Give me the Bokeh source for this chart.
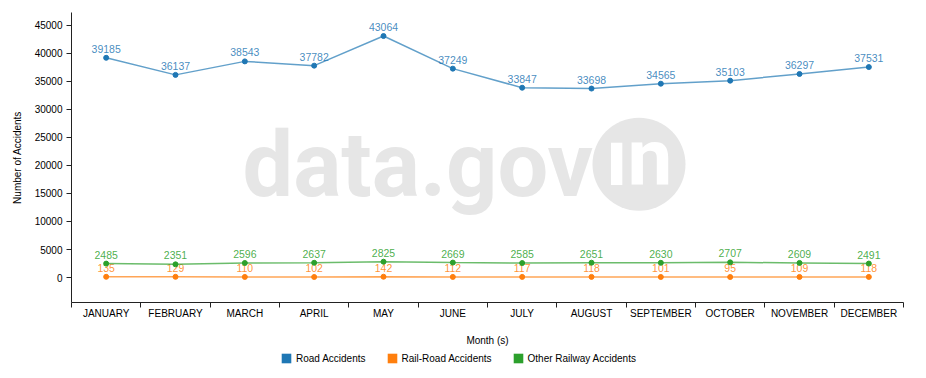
from bokeh.plotting import figure
from bokeh.layouts import column
from bokeh.models import (ColumnDataSource, FixedTicker, Range1d, Legend, LegendItem, Label)
from bokeh.embed import file_html
from bokeh.resources import INLINE
from bokeh.core.properties import value

months = ["JANUARY", "FEBRUARY", "MARCH", "APRIL", "MAY", "JUNE", "JULY",
          "AUGUST", "SEPTEMBER", "OCTOBER", "NOVEMBER", "DECEMBER"]
road = [39185, 36137, 38543, 37782, 43064, 37249, 33847, 33698, 34565, 35103, 36297, 37531]
rail_road = [135, 129, 110, 102, 142, 112, 117, 118, 101, 95, 109, 118]
other_rail = [2485, 2351, 2596, 2637, 2825, 2669, 2585, 2651, 2630, 2707, 2609, 2491]
series_names = ["Road Accidents", "Rail-Road Accidents", "Other Railway Accidents"]
colors = ["#1f77b4", "#ff7f0e", "#2ca02c"]
y_ticks = [0, 5000, 10000, 15000, 20000, 25000, 30000, 35000, 40000, 45000]

FONT = "Liberation Sans"
xs = [i + 0.5 for i in range(len(months))]
NAN = float("nan")

p = figure(width=910, height=348, output_backend="svg", toolbar_location=None,
           x_range=Range1d(0, len(months)), y_range=Range1d(-4450, 47260),
           min_border_left=71, min_border_right=7, min_border_top=12, min_border_bottom=46)
p.outline_line_color = None
p.grid.visible = False
p.background_fill_color = "white"

# watermark
p.add_layout(Label(x=2.466, y=19946, text="data.gov", text_font="Roboto", text_font_style="bold",
                   text_font_size="90px", text_color="#e6e6e6", text_baseline="middle"))
p.scatter(x=[8.185], y=[20214], size=93, fill_color="#e6e6e6", line_color=None)
p.add_layout(Label(x=8.185, y=21372, text="\u0131n", text_font="Roboto", text_font_style="bold",
                   text_font_size="80px", text_color="white", text_align="center",
                   text_baseline="middle"))

for vals, name, c in zip([road, rail_road, other_rail], series_names, colors):
    src = ColumnDataSource(dict(x=xs, y=vals, t=[str(v) for v in vals]))
    p.line("x", "y", source=src, line_color=c, line_width=1.5, line_alpha=0.7)
    p.scatter("x", "y", source=src, size=5, fill_color=c, line_color=c)
    p.text("x", "y", text="t", source=src, text_color=c, text_alpha=0.85,
           text_font=value(FONT), text_font_size="10.5px", text_align="center",
           text_baseline="bottom", y_offset=-5)

# axes
xa = p.xaxis[0]
xa.ticker = FixedTicker(ticks=xs, minor_ticks=list(range(len(months) + 1)))
xa.major_label_overrides = {x: m for x, m in zip(xs, months)}
xa.major_tick_out = 0
xa.major_tick_in = 0
xa.minor_tick_out = 5
xa.minor_tick_in = 0
xa.minor_tick_line_color = "#222"
xa.axis_line_color = "#222"
xa.major_label_standoff = 0
xa.axis_label = "Month (s)"
xa.axis_label_standoff = 13

ya = p.yaxis[0]
ya.ticker = FixedTicker(ticks=y_ticks, minor_ticks=[])
ya.major_tick_out = 5
ya.major_tick_in = 0
ya.major_tick_line_color = "#222"
ya.axis_line_color = "#222"
ya.major_label_standoff = 4
ya.axis_label = "Number of Accidents"
ya.axis_label_standoff = 9
ya.formatter.use_scientific = False

for ax in (xa, ya):
    ax.major_label_text_font = FONT
    ax.major_label_text_font_size = "10px"
    ax.major_label_text_color = "#000"
    ax.axis_label_text_font = FONT
    ax.axis_label_text_font_size = "10px"
    ax.axis_label_text_font_style = "normal"
    ax.axis_label_text_color = "#000"

# legend strip (frame is aligned with the main plot's frame by the column layout)
lg = figure(width=910, height=20, output_backend="svg", toolbar_location=None,
            x_range=Range1d(0, 1), y_range=Range1d(0, 1),
            x_axis_location=None, y_axis_location=None,
            min_border_left=0, min_border_right=0, min_border_top=0, min_border_bottom=0)
lg.outline_line_color = None
lg.grid.visible = False
items = []
for name, c in zip(series_names, colors):
    q = lg.quad(left=[NAN], right=[NAN], top=[NAN], bottom=[NAN], fill_color=c, line_color=None)
    items.append(LegendItem(label=name, renderers=[q]))
legend = Legend(items=items, orientation="horizontal", location=(209, 4),
                glyph_width=12, glyph_height=12, label_height=12, label_standoff=4,
                spacing=20, padding=0, margin=0, border_line_color=None,
                background_fill_alpha=0,
                label_text_font=FONT, label_text_font_size="10px", label_text_color="#000")
lg.add_layout(legend)

open("out.html", "w").write(file_html(column(p, lg, spacing=0), INLINE))
